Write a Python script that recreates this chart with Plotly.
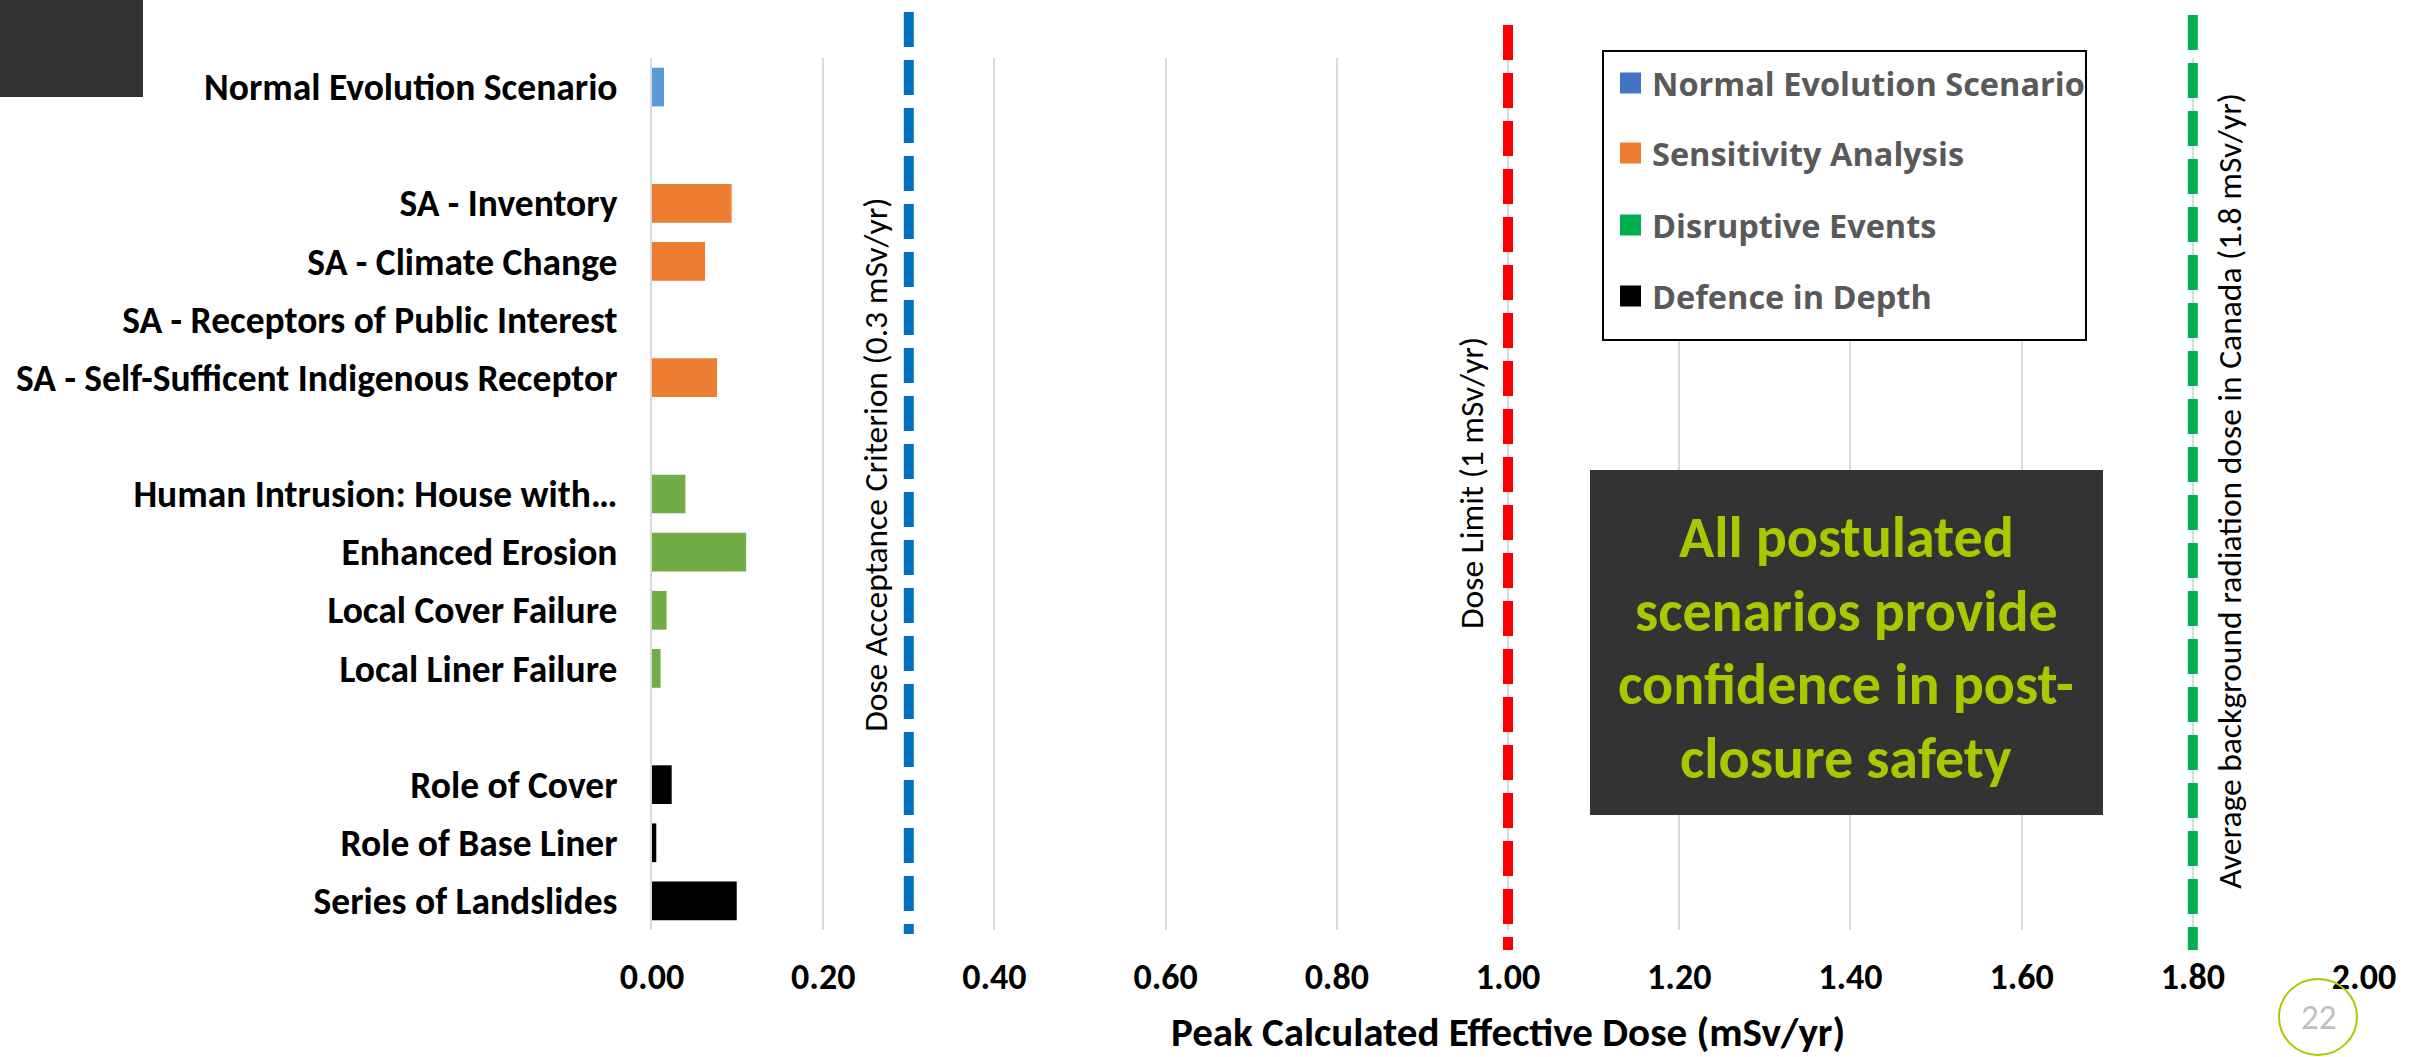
import plotly.graph_objects as go

# ---------------- data ----------------
categories = [
    "Normal Evolution Scenario", " ",
    "SA - Inventory", "SA - Climate Change", "SA - Receptors of Public Interest",
    "SA - Self-Sufficent Indigenous Receptor", "  ",
    "Human Intrusion: House with…", "Enhanced Erosion", "Local Cover Failure", "Local Liner Failure", "   ",
    "Role of Cover", "Role of Base Liner", "Series of Landslides",
]

nes_cats = ["Normal Evolution Scenario"]
nes_vals = [0.014]

sa_cats = ["SA - Inventory", "SA - Climate Change", "SA - Receptors of Public Interest",
           "SA - Self-Sufficent Indigenous Receptor"]
sa_vals = [0.093, 0.062, 0.0, 0.076]

de_cats = ["Human Intrusion: House with…", "Enhanced Erosion", "Local Cover Failure", "Local Liner Failure"]
de_vals = [0.039, 0.110, 0.017, 0.010]

did_cats = ["Role of Cover", "Role of Base Liner", "Series of Landslides"]
did_vals = [0.023, 0.005, 0.099]

series_names = ["Normal Evolution Scenario", "Sensitivity Analysis", "Disruptive Events", "Defence in Depth"]
bar_colors = ["#5B9BD5", "#ED7D31", "#70AD47", "#000000"]
legend_colors = ["#4472C4", "#ED7D31", "#00B050", "#000000"]

ref_values = [0.3, 1.0, 1.8]
ref_labels = ["Dose Acceptance Criterion (0.3 mSv/yr)", "Dose Limit (1 mSv/yr)",
              "Average background radiation dose in Canada (1.8 mSv/yr)"]
ref_colors = ["#0070C0", "#FF0000", "#00B050"]

x_ticks = [0.0, 0.2, 0.4, 0.6, 0.8, 1.0, 1.2, 1.4, 1.6, 1.8, 2.0]
x_title = "Peak Calculated Effective Dose (mSv/yr)"
box_lines = ["All postulated", "scenarios provide", "confidence in post-", "closure safety"]
page_number = "22"

# ---------------- layout helpers (pixel -> paper) ----------------
W, H = 2417, 1057
L, R, T, B = 652, 2364, 58, 930


def px(x):
    return (x - L) / (R - L)


def py(y):
    return (B - y) / (B - T)


FONT = "Carlito, Lato, 'Liberation Sans', sans-serif"

fig = go.Figure()
for cats, vals, name, col in zip([nes_cats, sa_cats, de_cats, did_cats],
                                 [nes_vals, sa_vals, de_vals, did_vals],
                                 series_names, bar_colors):
    fig.add_trace(go.Bar(x=vals, y=cats, orientation="h", name=name,
                         marker=dict(color=col, line=dict(width=0)), showlegend=False))

shapes = []
annotations = []

# reference dashed lines
ref_tops = [12, 25, 15]
ref_bottoms = [934, 950, 950]
ref_label_y = [465, 483, 491]
ref_label_shift = [-34, -37, 36]
for v, lab, col, yt, yb, ly, sh in zip(ref_values, ref_labels, ref_colors, ref_tops, ref_bottoms,
                                       ref_label_y, ref_label_shift):
    shapes.append(dict(type="line", xref="x", yref="paper", x0=v, x1=v, y0=py(yt), y1=py(yb),
                       line=dict(color=col, width=10, dash="35px,13px"), layer="above"))
    annotations.append(dict(text=lab, xref="x", yref="paper", x=v, y=py(ly), xshift=sh,
                            textangle=-90, showarrow=False, xanchor="center", yanchor="middle",
                            font=dict(family=FONT, size=33.5, color="#000000")))

# legend (drawn manually)
shapes.append(dict(type="rect", xref="paper", yref="paper", x0=px(1603), x1=px(2086), y0=py(51), y1=py(340),
                   line=dict(color="#000000", width=2), fillcolor="#FFFFFF", layer="above"))
leg_y = [83, 153, 225, 296]
for name, col, yy in zip(series_names, legend_colors, leg_y):
    shapes.append(dict(type="rect", xref="paper", yref="paper", x0=px(1620), x1=px(1641),
                       y0=py(yy - 10.5), y1=py(yy + 10.5), line=dict(width=0), fillcolor=col, layer="above"))
    annotations.append(dict(text=name, xref="paper", yref="paper", x=px(1650), y=py(yy),
                            xanchor="left", yanchor="middle", showarrow=False,
                            font=dict(family="'Open Sans', sans-serif", size=32.5, color="#595959", weight="bold")))

# message box
shapes.append(dict(type="rect", xref="paper", yref="paper", x0=px(1590), x1=px(2103), y0=py(470), y1=py(815),
                   line=dict(width=0), fillcolor="#333333", layer="above"))
for line, yy in zip(box_lines, [537, 611, 684, 758]):
    annotations.append(dict(text=line, xref="paper", yref="paper", x=px(1846), y=py(yy),
                            xanchor="center", yanchor="middle", showarrow=False,
                            font=dict(family=FONT, size=58, color="#A8C800", weight="bold")))

# top-left dark block
shapes.append(dict(type="rect", xref="paper", yref="paper", x0=px(0), x1=px(143), y0=py(0), y1=py(97),
                   line=dict(width=0), fillcolor="#333333", layer="above"))

# page number circle
shapes.append(dict(type="circle", xref="paper", yref="paper", x0=px(2279), x1=px(2357), y0=py(979), y1=py(1055),
                   line=dict(color="#A8C800", width=2), layer="above"))
annotations.append(dict(text=page_number, xref="paper", yref="paper", x=px(2318), y=py(1017),
                        xanchor="center", yanchor="middle", showarrow=False,
                        font=dict(family=FONT, size=35, color="#BFBFBF")))

# x axis title
annotations.append(dict(text=x_title, xref="paper", yref="paper", x=0.5, y=py(1032),
                        xanchor="center", yanchor="middle", showarrow=False,
                        font=dict(family=FONT, size=41, color="#000000", weight="bold")))

fig.update_layout(
    width=W, height=H,
    margin=dict(l=L, r=W - R, t=T, b=H - B, pad=0),
    paper_bgcolor="#FFFFFF", plot_bgcolor="#FFFFFF",
    barmode="overlay", bargap=0.334,
    shapes=shapes, annotations=annotations,
    showlegend=False,
    xaxis=dict(range=[0, 2], tickvals=x_ticks, tickformat=".2f", showgrid=True, gridcolor="#D9D9D9",
               gridwidth=2, zeroline=False, showline=False, ticks="", ticklabelstandoff=22,
               tickfont=dict(family=FONT, size=36, color="#000000", weight="bold")),
    yaxis=dict(type="category", categoryorder="array", categoryarray=categories, autorange="reversed",
               range=[len(categories) - 0.5, -0.5],
               showgrid=False, zeroline=False, showline=True, linecolor="#D9D9D9", linewidth=2,
               ticks="", ticklabelstandoff=25,
               tickfont=dict(family=FONT, size=37.5, color="#000000", weight="bold")),
)

fig.write_html("out.html", config={"displayModeBar": False},
               post_script="document.body.style.margin='0';document.body.style.overflow='hidden';")
